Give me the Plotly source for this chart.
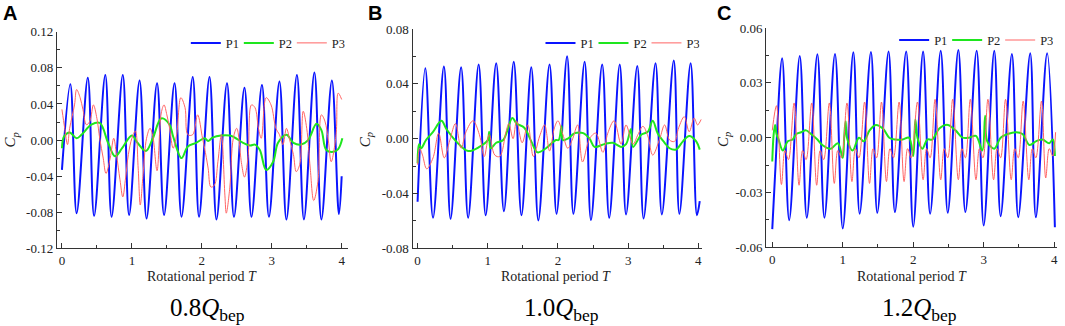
import plotly.graph_objects as go

# ---------------- data ----------------
SERIES = ["P1", "P2", "P3"]
PANEL_LETTERS = ["A", "B", "C"]
FLOW_LABELS = ["0.8", "1.0", "1.2"]

A_YTICKS = [-0.12, -0.08, -0.04, 0.0, 0.04, 0.08, 0.12]
A_YTEXT = ["-0.12", "-0.08", "-0.04", "0.00", "0.04", "0.08", "0.12"]
B_YTICKS = [-0.08, -0.04, 0.0, 0.04, 0.08]
B_YTEXT = ["-0.08", "-0.04", "0.00", "0.04", "0.08"]
C_YTICKS = [-0.06, -0.03, 0.0, 0.03, 0.06]
C_YTEXT = ["-0.06", "-0.03", "0.00", "0.03", "0.06"]
X_TICKS = [0, 1, 2, 3, 4]

# Panel A (0.8 Qbep)
A_P1_T = [0.0, 0.12, 0.21, 0.37, 0.46, 0.62, 0.71, 0.87, 0.96, 1.11, 1.21, 1.36, 1.46, 1.61, 1.71,
          1.87, 1.96, 2.11, 2.21, 2.36, 2.46, 2.61, 2.71, 2.86, 2.96, 3.11, 3.21, 3.36, 3.46, 3.61,
          3.71, 3.86, 3.96, 4.0]
A_P1_V = [-0.033, 0.062, -0.081, 0.069, -0.084, 0.072, -0.085, 0.072, -0.083, 0.066, -0.087, 0.063,
          -0.083, 0.063, -0.085, 0.070, -0.085, 0.070, -0.088, 0.063, -0.085, 0.058, -0.085, 0.061,
          -0.085, 0.065, -0.088, 0.072, -0.088, 0.075, -0.088, 0.066, -0.082, -0.040]
A_P2_T = [0.0, 0.03, 0.11, 0.21, 0.28, 0.42, 0.54, 0.66, 0.76, 0.86, 1.0, 1.08, 1.20, 1.30, 1.42,
          1.54, 1.59, 1.71, 1.80, 1.92, 2.04, 2.09, 2.16, 2.40, 2.59, 2.69, 2.76, 2.83, 2.92, 3.02,
          3.09, 3.21, 3.31, 3.42, 3.52, 3.64, 3.71, 3.78, 3.88, 3.95, 4.01]
A_P2_V = [-0.009, 0.004, 0.0085, 0.002, 0.006, 0.017, 0.019, -0.003, -0.018, -0.009, 0.005, -0.003,
          -0.012, 0.002, 0.024, 0.017, 0.004, -0.020, -0.007, -0.003, 0.002, -0.001, 0.003, 0.005,
          -0.003, -0.006, -0.005, -0.011, -0.033, -0.024, -0.003, 0.006, -0.003, -0.005, 0.0, 0.018,
          0.011, -0.011, -0.013, -0.010, 0.002]
A_P3_T = [0.0, 0.04, 0.08, 0.11, 0.18, 0.21, 0.26, 0.30, 0.35, 0.40, 0.45, 0.50, 0.54, 0.59, 0.63,
          0.69, 0.74, 0.78, 0.83, 0.87, 0.91, 0.95, 1.0, 1.05, 1.09, 1.12, 1.16, 1.21, 1.26, 1.30,
          1.36, 1.42, 1.46, 1.50, 1.54, 1.59, 1.64, 1.70, 1.76, 1.80, 1.87, 1.94, 2.01, 2.04, 2.09,
          2.13, 2.18, 2.23, 2.28, 2.33, 2.35, 2.40, 2.45, 2.50, 2.57, 2.61, 2.66, 2.71, 2.76, 2.81,
          2.85, 2.92, 2.99, 3.06, 3.11, 3.16, 3.21, 3.26, 3.31, 3.35, 3.40, 3.45, 3.50, 3.55, 3.60,
          3.66, 3.71, 3.76, 3.81, 3.85, 3.92, 3.95, 4.0]
A_P3_V = [0.034, 0.013, -0.005, 0.013, 0.039, 0.056, 0.047, 0.034, 0.017, 0.021, 0.039, 0.024,
          0.002, -0.020, -0.037, -0.020, 0.002, -0.016, -0.044, -0.063, -0.042, -0.016, 0.002,
          0.010, -0.031, -0.072, -0.038, 0.002, 0.013, 0.004, -0.034, 0.030, 0.039, 0.028, 0.013,
          -0.009, 0.006, 0.047, 0.036, 0.006, 0.006, 0.028, 0.002, -0.009, -0.031, -0.052, -0.050,
          -0.024, 0.006, -0.061, -0.081, -0.053, 0.002, 0.013, -0.027, -0.041, -0.020, 0.039, 0.036,
          0.013, 0.002, 0.047, 0.039, 0.013, 0.006, -0.005, 0.013, -0.001, -0.016, -0.035, -0.027,
          0.032, 0.013, -0.031, -0.067, -0.046, 0.028, 0.021, -0.001, -0.024, 0.006, 0.052, 0.045]

# Panel B (1.0 Qbep)
B_P1_T = [0.0, 0.11, 0.22, 0.375, 0.47, 0.62, 0.72, 0.87, 0.97, 1.12, 1.23, 1.37, 1.48, 1.62, 1.72,
          1.88, 1.98, 2.13, 2.22, 2.38, 2.47, 2.63, 2.73, 2.88, 2.97, 3.13, 3.22, 3.39, 3.48, 3.65,
          3.73, 3.89, 3.98, 4.02]
B_P1_V = [-0.046, 0.0514, -0.0577, 0.0527, -0.0584, 0.052, -0.0577, 0.054, -0.0558, 0.055, -0.0529,
          0.056, -0.0558, 0.052, -0.0596, 0.054, -0.0548, 0.060, -0.0548, 0.056, -0.0594, 0.054,
          -0.0577, 0.054, -0.0553, 0.053, -0.0582, 0.055, -0.0553, 0.057, -0.0548, 0.055, -0.0558,
          -0.0456]
B_P2_T = [0.0, 0.02, 0.05, 0.12, 0.22, 0.34, 0.41, 0.55, 0.72, 0.88, 1.0, 1.02, 1.04, 1.12, 1.22,
          1.35, 1.41, 1.52, 1.62, 1.71, 1.83, 1.97, 2.01, 2.05, 2.07, 2.14, 2.24, 2.36, 2.45, 2.52,
          2.66, 2.78, 2.90, 2.97, 3.04, 3.07, 3.19, 3.28, 3.35, 3.42, 3.52, 3.59, 3.68, 3.78, 3.87,
          3.97, 4.02]
B_P2_V = [-0.018, -0.004, -0.007, -0.001, 0.005, 0.013, 0.007, -0.002, -0.009, -0.006, -0.001,
          0.005, -0.007, -0.003, -0.001, 0.015, 0.011, 0.008, -0.002, -0.010, -0.007, -0.001,
          -0.001, 0.009, -0.001, 0.0, 0.004, 0.004, 0.0, -0.006, -0.004, -0.003, -0.006, -0.004,
          0.007, -0.006, 0.003, 0.005, 0.013, 0.004, -0.003, -0.007, -0.008, -0.002, 0.002, -0.002,
          -0.008]
B_P3_T = [0.0, 0.03, 0.07, 0.13, 0.22, 0.30, 0.38, 0.46, 0.54, 0.62, 0.69, 0.79, 0.88, 0.95, 1.02,
          1.10, 1.17, 1.26, 1.30, 1.36, 1.41, 1.49, 1.57, 1.65, 1.74, 1.81, 1.88, 1.95, 2.0, 2.07,
          2.14, 2.21, 2.28, 2.35, 2.45, 2.54, 2.64, 2.71, 2.80, 2.90, 2.97, 3.07, 3.14, 3.21, 3.28,
          3.35, 3.45, 3.52, 3.59, 3.66, 3.72, 3.80, 3.87, 3.94, 3.99, 4.04]
B_P3_V = [-0.019, -0.007, -0.012, -0.022, -0.014, 0.004, -0.014, -0.001, 0.011, -0.007, 0.005,
          0.013, 0.003, -0.013, 0.003, -0.012, -0.013, 0.005, 0.011, 0.0, 0.013, -0.003, 0.010,
          -0.013, 0.002, 0.010, -0.009, 0.008, 0.013, 0.003, -0.007, 0.0, 0.010, -0.017, 0.0, 0.004,
          -0.010, 0.004, 0.013, -0.004, 0.010, -0.004, 0.003, 0.009, 0.002, -0.012, 0.0, 0.010,
          -0.001, -0.002, 0.008, 0.016, 0.005, 0.015, 0.010, 0.014]

# Panel C (1.2 Qbep)
C_P1_T = [0.0, 0.04, 0.14, 0.24, 0.39, 0.49, 0.64, 0.74, 0.89, 1.0, 1.15, 1.24, 1.40, 1.49, 1.65,
          1.74, 1.90, 2.0, 2.14, 2.24, 2.39, 2.49, 2.64, 2.74, 2.90, 3.0, 3.15, 3.24, 3.40, 3.49,
          3.66, 3.74, 3.90, 4.01]
C_P1_V = [-0.050, -0.020, 0.0435, -0.0451, 0.0447, -0.0438, 0.0456, -0.0438, 0.0458, -0.0496,
          0.0467, -0.0416, 0.0469, -0.0411, 0.0471, -0.0407, 0.0471, -0.0487, 0.0471, -0.0416,
          0.0475, -0.0411, 0.048, -0.0407, 0.0476, -0.048, 0.0475, -0.0429, 0.0458, -0.0435, 0.0462,
          -0.0435, 0.0462, -0.049]
C_P2_T = [0.0, 0.02, 0.04, 0.06, 0.09, 0.15, 0.22, 0.29, 0.34, 0.41, 0.48, 0.55, 0.64, 0.71, 0.83,
          0.93, 1.0, 1.02, 1.04, 1.06, 1.14, 1.23, 1.30, 1.38, 1.47, 1.57, 1.66, 1.75, 1.85, 1.94,
          2.0, 2.03, 2.06, 2.13, 2.20, 2.27, 2.37, 2.49, 2.60, 2.70, 2.79, 2.89, 2.98, 3.02, 3.05,
          3.15, 3.24, 3.34, 3.46, 3.55, 3.65, 3.74, 3.83, 3.93, 3.98, 4.01]
C_P2_V = [-0.013, 0.002, 0.007, 0.002, -0.001, -0.007, -0.002, -0.001, 0.002, 0.003, 0.004, 0.002,
          -0.001, -0.004, -0.006, -0.003, -0.011, 0.0, 0.009, 0.0, -0.007, 0.0, -0.002, 0.004, 0.007,
          0.005, 0.0, -0.001, -0.001, 0.0, -0.010, 0.010, 0.0, -0.006, -0.001, -0.001, 0.005, 0.007,
          0.004, 0.0, 0.0, 0.001, -0.007, 0.012, -0.002, -0.006, 0.0, 0.002, 0.003, 0.002, -0.004,
          -0.002, -0.001, -0.003, -0.001, -0.010]
C_P3_T = [0.0, 0.06, 0.13, 0.18, 0.23,
          0.31, 0.38, 0.43, 0.48,
          0.56, 0.63, 0.68, 0.73,
          0.81, 0.88, 0.93, 0.98,
          1.06, 1.13, 1.18, 1.23,
          1.31, 1.38, 1.43, 1.48,
          1.55, 1.62, 1.67, 1.72,
          1.80, 1.87, 1.92, 1.97,
          2.06, 2.14, 2.19, 2.24,
          2.31, 2.39, 2.44, 2.49,
          2.56, 2.64, 2.69, 2.74,
          2.81, 2.89, 2.94, 2.99,
          3.06, 3.14, 3.19, 3.24,
          3.31, 3.39, 3.44, 3.49,
          3.56, 3.64, 3.69, 3.74,
          3.82, 3.88, 3.93, 3.98, 4.02]
C_P3_V = [0.004, 0.0175, -0.0256, -0.007, -0.012,
          0.019, -0.026, -0.007, -0.012,
          0.019, -0.026, -0.007, -0.012,
          0.019, -0.025, -0.007, -0.011,
          0.019, -0.024, -0.006, -0.011,
          0.0195, -0.025, -0.006, -0.011,
          0.0195, -0.024, -0.006, -0.011,
          0.0195, -0.024, -0.006, -0.011,
          0.0195, -0.023, -0.006, -0.011,
          0.021, -0.023, -0.006, -0.011,
          0.021, -0.023, -0.006, -0.011,
          0.021, -0.023, -0.006, -0.011,
          0.021, -0.023, -0.006, -0.011,
          0.021, -0.023, -0.006, -0.011,
          0.020, -0.023, -0.006, -0.011,
          0.020, -0.022, -0.006, -0.010, 0.003]

# ---------------- styling ----------------
W, H = 1065, 326
SERIF = "Liberation Serif, Times New Roman, serif"
SANS = "Liberation Sans, Arial, sans-serif"
AX = "#333333"
TXT = "#222222"
COLORS = {"P1": "#0a14ff", "P2": "#1ee61e", "P3": "#ff6464"}
WIDTHS = {"P1": 2.0, "P2": 2.0, "P3": 1.0}

panels = [
    dict(data={"P1": (A_P1_T, A_P1_V), "P2": (A_P2_T, A_P2_V), "P3": (A_P3_T, A_P3_V)},
         yticks=A_YTICKS, ytext=A_YTEXT, yminor=0.02, yrange=[-0.12, 0.12],
         xpx=(57, 348), xrange=[-0.0714, 4.0857], ypx=(26, 253),
         letter_x=1, ytitle_x=11, xtitle_x=202, flow_x=208, legend_x=186, legend_y=38),
    dict(data={"P1": (B_P1_T, B_P1_V), "P2": (B_P2_T, B_P2_V), "P3": (B_P3_T, B_P3_V)},
         yticks=B_YTICKS, ytext=B_YTEXT, yminor=0.02, yrange=[-0.08, 0.08],
         xpx=(413, 703), xrange=[-0.071, 4.057], ypx=(23, 253),
         letter_x=366, ytitle_x=366, xtitle_x=557, flow_x=562, legend_x=541, legend_y=38),
    dict(data={"P1": (C_P1_T, C_P1_V), "P2": (C_P2_T, C_P2_V), "P3": (C_P3_T, C_P3_V)},
         yticks=C_YTICKS, ytext=C_YTEXT, yminor=0.015, yrange=[-0.06, 0.06],
         xpx=(767, 1058), xrange=[-0.085, 4.04], ypx=(22, 252),
         letter_x=716, ytitle_x=724, xtitle_x=913, flow_x=920, legend_x=895, legend_y=35),
]

fig = go.Figure()
layout = dict(width=W, height=H, margin=dict(l=0, r=0, t=0, b=0),
              paper_bgcolor="white", plot_bgcolor="white", showlegend=True)
annotations = []

for i, p in enumerate(panels):
    sfx = "" if i == 0 else str(i + 1)
    leg = "legend" + sfx
    for name in SERIES:
        t, v = p["data"][name]
        fig.add_trace(go.Scatter(
            x=t, y=v, mode="lines", name=name,
            line=dict(color=COLORS[name], width=WIDTHS[name], shape="spline", smoothing=1.0),
            xaxis="x" + sfx, yaxis="y" + sfx, legend=leg, hoverinfo="skip"))

    x0, x1 = p["xpx"]
    yt, yb = p["ypx"]
    layout["xaxis" + sfx] = dict(
        domain=[x0 / W, x1 / W], range=p["xrange"], anchor="y" + sfx,
        tickmode="array", tickvals=X_TICKS, ticktext=[str(x) for x in X_TICKS],
        ticks="inside", ticklen=5, tickwidth=1.2, tickcolor=AX,
        minor=dict(dtick=0.5, tick0=0, ticks="inside", ticklen=3, tickwidth=1, tickcolor=AX, showgrid=False),
        showline=True, linecolor=AX, linewidth=1.3, showgrid=False, zeroline=False,
        tickfont=dict(family=SERIF, size=13, color=TXT))
    layout["yaxis" + sfx] = dict(
        domain=[1 - yb / H, 1 - yt / H], range=p["yrange"], anchor="x" + sfx,
        tickmode="array", tickvals=p["yticks"], ticktext=p["ytext"],
        ticks="inside", ticklen=5, tickwidth=1.2, tickcolor=AX,
        minor=dict(dtick=p["yminor"], tick0=0, ticks="inside", ticklen=3, tickwidth=1, tickcolor=AX, showgrid=False),
        showline=True, linecolor=AX, linewidth=1.3, showgrid=False, zeroline=False,
        tickfont=dict(family=SERIF, size=13, color=TXT))
    layout[leg] = dict(
        orientation="h", x=p["legend_x"] / W, y=1 - p["legend_y"] / H,
        xanchor="left", yanchor="middle", bgcolor="rgba(0,0,0,0)",
        entrywidth=8, entrywidthmode="pixels",
        font=dict(family=SERIF, size=12.5, color=TXT), itemclick=False, itemdoubleclick=False)

    annotations.append(dict(text="<b>%s</b>" % PANEL_LETTERS[i], x=p["letter_x"] / W, y=1 - 6 / H,
                            xref="paper", yref="paper", xanchor="left", yanchor="middle",
                            showarrow=False, font=dict(family=SANS, size=20, color="black")))
    annotations.append(dict(text="<i>C</i><sub><i>p</i></sub>", x=p["ytitle_x"] / W, y=1 - 139 / H,
                            xref="paper", yref="paper", xanchor="center", yanchor="middle",
                            textangle=-90, showarrow=False, font=dict(family=SERIF, size=15, color=TXT)))
    annotations.append(dict(text="Rotational period <i>T</i>", x=p["xtitle_x"] / W, y=1 - 282 / H,
                            xref="paper", yref="paper", xanchor="center", yanchor="middle",
                            showarrow=False, font=dict(family=SERIF, size=14, color=TXT)))
    annotations.append(dict(text="%s<i>Q</i><sub>bep</sub>" % FLOW_LABELS[i], x=p["flow_x"] / W,
                            y=1 - 317 / H, xref="paper", yref="paper", xanchor="center",
                            yanchor="middle", showarrow=False,
                            font=dict(family=SERIF, size=25, color="black")))

layout["annotations"] = annotations
fig.update_layout(**layout)
fig.write_html("out.html", config={"displayModeBar": False},
               post_script="document.body.style.margin='0';document.body.style.overflow='hidden';")
